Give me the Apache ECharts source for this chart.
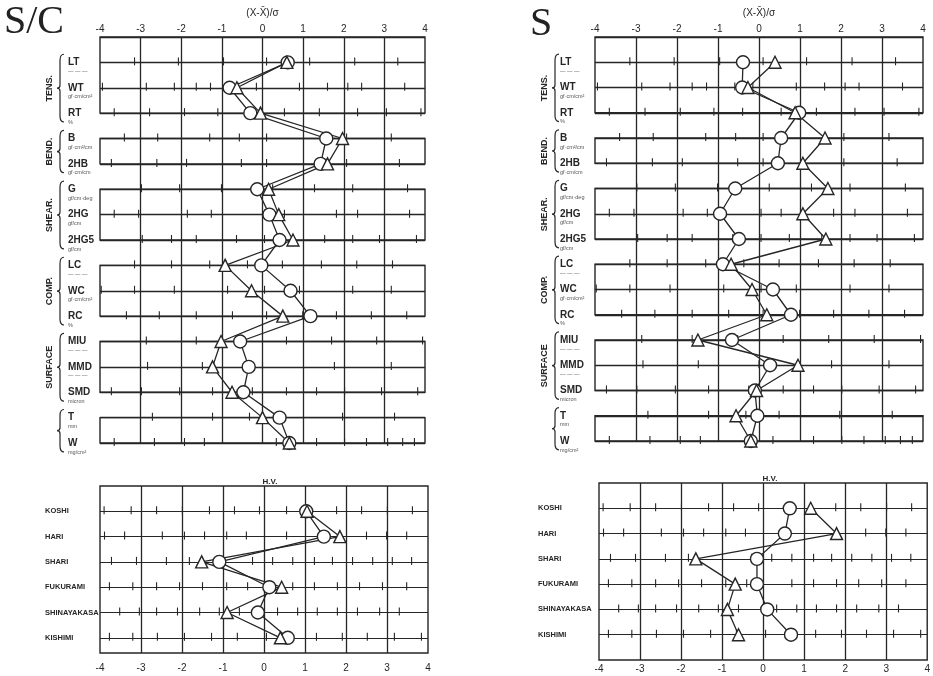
<!DOCTYPE html>
<html>
<head>
<meta charset="utf-8">
<script src="https://cdn.jsdelivr.net/npm/echarts@6/dist/echarts.min.js"></script>
<style>
html,body{margin:0;padding:0;background:#fff;}
#c{width:933px;height:676px;}
</style>
</head>
<body>
<div id="c"></div>
<script>
// KES hand-value charts: standardized deviation (X - mean)/sigma per characteristic

const rowsTop = ['LT','WT','RT','B','2HB','G','2HG','2HG5','LC','WC','RC','MIU','MMD','SMD','T','W'];
const unitsTop = ['— — —','gf·cm/cm²','%','gf·cm²/cm','gf·cm/cm','gf/cm·deg','gf/cm','gf/cm','— — —','gf·cm/cm²','%','— — —','— — —','micron','mm','mg/cm²'];
const rowsHV = ['KOSHI','HARI','SHARI','FUKURAMI','SHINAYAKASA','KISHIMI'];
const sigmaTicks = [-4,-3,-2,-1,0,1,2,3,4];

// S/C panel
const scCircle   = [0.62,-0.81,-0.30,1.57,1.43,-0.13,0.17,0.42,-0.03,0.69,1.18,-0.55,-0.34,-0.47,0.42,0.66];
const scTriangle = [0.60,-0.63,-0.05,1.97,1.60,0.15,0.40,0.75,-0.92,-0.27,0.50,-1.02,-1.23,-0.75,0.00,0.66];
const scHvCircle   = [1.03,1.46,-1.09,0.13,-0.15,0.58];
const scHvTriangle = [1.05,1.85,-1.52,0.43,-0.90,0.40];

// S panel
const sCircle   = [-0.39,-0.41,0.98,0.54,0.46,-0.58,-0.95,-0.49,-0.88,0.34,0.78,-0.66,0.27,-0.10,-0.04,-0.20];
const sTriangle = [0.39,-0.27,0.88,1.61,1.07,1.68,1.07,1.63,-0.68,-0.17,0.19,-1.49,0.95,-0.06,-0.56,-0.20];
const sHvCircle   = [0.65,0.53,-0.15,-0.15,0.10,0.68];
const sHvTriangle = [1.16,1.79,-1.64,-0.68,-0.87,-0.60];

// scale marks along each property line (in sigma units)
const scaleTop = [
  [-3.15,-2.07,-0.96,0.10,1.16,2.27,3.33],
  [-3.94,-2.86,-2.17,-1.63,-1.28,-0.59,-0.15,0.91,1.60,2.10,2.44,3.50],
  [-3.65,-2.78,-1.92,-1.10,-0.40,0.54,1.40,2.34,3.05,3.90],
  [-3.40,-2.58,-1.30,-0.57,0.10,2.07,3.17],
  [-3.72,-2.60,-1.87,-0.52,0.10,2.07,3.37],
  [-2.98,-2.04,-1.01,0.25,1.28,2.22,3.57],
  [-3.65,-3.05,-1.85,-1.26,0.05,0.54,1.82,2.34,3.62],
  [-2.96,-2.24,-1.63,-0.64,0.05,0.74,1.53,2.22,2.88,3.79],
  [-3.15,-2.24,-1.30,-0.89,-0.37,0.49,1.45,2.32,3.20],
  [-3.97,-3.15,-2.17,-0.86,0.05,0.91,2.22,3.17],
  [-3.35,-2.54,-1.63,-0.74,0.10,0.99,1.82,2.68,3.55],
  [-2.86,-1.63,-0.52,0.59,1.70,2.81,3.94],
  [-2.83,-1.48,0.00,1.77,3.17],
  [-3.72,-2.98,-2.04,-1.23,-0.25,0.59,1.33,2.02,2.93,3.82],
  [-2.71,-1.23,-0.32,0.49,1.97,3.25],
  [-3.65,-2.66,-1.92,-1.43,0.34,1.33,2.02,2.56,3.08,3.45,3.74]
];
const scaleHV = [
  [-3.90,-3.24,-2.62,-1.99,-1.33,-0.72,-0.11,0.55,1.77,2.38,3.01,3.62],
  [-3.89,-3.40,-2.48,-1.94,-1.45,-0.91,-0.43,0.55,2.50,2.99,3.48],
  [-3.72,-3.11,-2.38,-1.82,-0.28,0.21,0.70,1.23,1.67,2.16,2.65,3.13,3.60],
  [-3.77,-3.20,-2.62,-2.06,-1.50,-0.91,-0.40,0.70,1.23,1.79,2.33,2.89,3.48],
  [-3.52,-3.04,-2.62,-2.11,-1.57,-1.09,-0.60,0.33,0.82,1.30,1.79,2.28,2.82,3.30],
  [-3.77,-3.20,-2.60,-1.94,-1.28,-0.65,0.06,1.28,1.91,2.52,3.18,3.84]
];

// boxes (row spans) and bracketed group names
const boxesTop = [[0,3],[4,5],[6,8],[9,11],[12,14],[15,16]];
const groupNames = ['TENS.','BEND.','SHEAR.','COMP.','SURFACE',''];
const groupSpans = [[1,3],[4,5],[6,8],[9,11],[12,14],[15,16]];

const ink = '#262626';
const sans = 'Liberation Sans';

const chart = echarts.init(document.getElementById('c'), null, {renderer: 'canvas'});

const grids = [
  {left: 100, top: 37, width: 325, height: 406},
  {left: 595, top: 37, width: 328, height: 404},
  {left: 100, top: 486, width: 328, height: 167},
  {left: 599, top: 483, width: 330, height: 177}
];
const hvMax = [6.6, 7];

function xAxisTop(gi) {
  return {
    gridIndex: gi, type: 'value', position: 'top', min: -4, max: 4, interval: 1,
    name: '(X-X̄)/σ', nameLocation: 'middle', nameGap: 19,
    nameTextStyle: {color: ink, fontSize: 10, fontFamily: sans},
    axisLine: {show: false}, axisTick: {show: false},
    axisLabel: {margin: 3, fontSize: 10, color: ink, fontFamily: sans,
      formatter: v => sigmaTicks.indexOf(v) >= 0 ? String(v) : ''},
    splitLine: {show: true, showMinLine: false, showMaxLine: false, lineStyle: {color: ink, width: 1.3}}
  };
}
function xAxisBottom(gi, margin) {
  return {
    gridIndex: gi, type: 'value', position: 'bottom', min: -4, max: 4, interval: 1,
    axisLine: {show: false}, axisTick: {show: false},
    axisLabel: {margin: margin, fontSize: 10, color: ink, fontFamily: sans},
    splitLine: {show: true, showMinLine: false, showMaxLine: false, lineStyle: {color: ink, width: 1.3}}
  };
}
function yAxisTop(gi, margin) {
  return {
    gridIndex: gi, type: 'value', inverse: true, min: 0, max: 16, interval: 1,
    axisLine: {show: false}, axisTick: {show: false},
    axisLabel: {formatter: v => rowsTop[v - 1] || '', align: 'left', margin: margin,
      color: ink, fontSize: 10, fontWeight: 'bold', fontFamily: sans},
    splitLine: {show: true, showMinLine: true, showMaxLine: true, lineStyle: {color: ink, width: 1.3}}
  };
}
function yAxisHV(gi, max, margin) {
  return {
    gridIndex: gi, type: 'value', inverse: true, min: 0, max: max, interval: 1,
    axisLine: {show: false}, axisTick: {show: false},
    axisLabel: {formatter: v => rowsHV[v - 1] || '', align: 'left', margin: margin,
      color: ink, fontSize: 7.5, fontWeight: 'bold', fontFamily: sans},
    splitLine: {show: true, showMinLine: false, showMaxLine: false, lineStyle: {color: ink, width: 1.2}}
  };
}

// frame rectangles around each group of rows
function frameSeries(gi, spans) {
  return {
    type: 'custom', xAxisIndex: gi, yAxisIndex: gi, silent: true, clip: false, z: 3,
    data: spans.map((s, i) => [i]),
    renderItem: (params, api) => {
      const s = spans[params.dataIndex];
      const p1 = api.coord([-4, s[0]]);
      const p2 = api.coord([4, s[1]]);
      return {type: 'rect', shape: {x: p1[0], y: p1[1], width: p2[0] - p1[0], height: p2[1] - p1[1]},
        style: {fill: 'none', stroke: ink, lineWidth: 1.4}};
    }
  };
}

// short scale marks on every property line
function scaleSeries(gi, scales) {
  return {
    type: 'custom', xAxisIndex: gi, yAxisIndex: gi, silent: true, clip: false, z: 3,
    data: scales.map((s, i) => [i]),
    renderItem: (params, api) => {
      const row = params.dataIndex + 1;
      const children = scales[params.dataIndex].map(v => {
        const p = api.coord([v, row]);
        return {type: 'line', shape: {x1: p[0], y1: p[1] - 5, x2: p[0], y2: p[1] + 3},
          style: {stroke: ink, lineWidth: 1.1}};
      });
      return {type: 'group', children: children};
    }
  };
}

// braces, rotated group names and unit captions to the left of the upper boxes
function groupLabelSeries(gi, labelMargin) {
  return {
    type: 'custom', xAxisIndex: gi, yAxisIndex: gi, silent: true, clip: false, z: 3,
    data: groupSpans.map((s, i) => [i]),
    renderItem: (params, api) => {
      const s = groupSpans[params.dataIndex];
      const top = api.coord([-4, s[0] - 0.32]);
      const bot = api.coord([-4, s[1] + 0.35]);
      const bx = top[0] - 40;
      const y1 = top[1], y2 = bot[1], ym = (y1 + y2) / 2;
      const path = `M${bx + 4},${y1} Q${bx},${y1} ${bx},${y1 + 6} L${bx},${ym - 3} Q${bx},${ym} ${bx - 3},${ym} Q${bx},${ym} ${bx},${ym + 3} L${bx},${y2 - 6} Q${bx},${y2} ${bx + 4},${y2}`;
      const children = [
        {type: 'path', shape: {pathData: path}, style: {fill: 'none', stroke: ink, lineWidth: 1.2}},
        {type: 'text', x: bx - 10, y: ym, rotation: Math.PI / 2,
          style: {text: groupNames[params.dataIndex], fill: ink, font: `bold 9px "${sans}"`,
            align: 'center', verticalAlign: 'middle'}}
      ];
      for (let r = s[0]; r <= s[1]; r++) {
        const p = api.coord([-4, r]);
        children.push({type: 'text', x: p[0] - labelMargin, y: p[1] + 9,
          style: {text: unitsTop[r - 1], fill: '#555', font: `5.5px "${sans}"`, align: 'left', verticalAlign: 'middle'}});
      }
      return {type: 'group', children: children};
    }
  };
}

function markSeries(gi, vals, symbol) {
  return {
    type: 'line', xAxisIndex: gi, yAxisIndex: gi,
    data: vals.map((v, i) => [v, i + 1]),
    symbol: symbol, symbolSize: symbol === 'circle' ? 13 : 12, showSymbol: true,
    lineStyle: {color: ink, width: 1.3},
    itemStyle: {color: '#fff', borderColor: ink, borderWidth: 1.4},
    z: 6, animation: false
  };
}

const option = {
  animation: false,
  backgroundColor: '#fff',
  title: [
    {text: 'H.V.', left: 265, top: 473, textAlign: 'center',
      textStyle: {fontSize: 8, fontWeight: 'bold', color: ink, fontFamily: sans}},
    {text: 'H.V.', left: 765, top: 470, textAlign: 'center',
      textStyle: {fontSize: 8, fontWeight: 'bold', color: ink, fontFamily: sans}}
  ],
  graphic: [
    {type: 'text', left: 4, top: 2, style: {text: 'S/C', font: '40px "Liberation Serif"', fill: '#222'}},
    {type: 'text', left: 530, top: 4, style: {text: 'S', font: '40px "Liberation Serif"', fill: '#222'}}
  ],
  grid: grids,
  xAxis: [xAxisTop(0), xAxisTop(1), xAxisBottom(2, 10), xAxisBottom(3, 4)],
  yAxis: [yAxisTop(0, 32), yAxisTop(1, 35), yAxisHV(2, hvMax[0], 55), yAxisHV(3, hvMax[1], 61)],
  series: [
    frameSeries(0, boxesTop), frameSeries(1, boxesTop),
    frameSeries(2, [[0, hvMax[0]]]), frameSeries(3, [[0, hvMax[1]]]),
    scaleSeries(0, scaleTop), scaleSeries(1, scaleTop),
    scaleSeries(2, scaleHV), scaleSeries(3, scaleHV),
    groupLabelSeries(0, 32), groupLabelSeries(1, 35),
    markSeries(0, scCircle, 'circle'), markSeries(0, scTriangle, 'triangle'),
    markSeries(1, sCircle, 'circle'), markSeries(1, sTriangle, 'triangle'),
    markSeries(2, scHvCircle, 'circle'), markSeries(2, scHvTriangle, 'triangle'),
    markSeries(3, sHvCircle, 'circle'), markSeries(3, sHvTriangle, 'triangle')
  ]
};
chart.setOption(option);
</script>
</body>
</html>
